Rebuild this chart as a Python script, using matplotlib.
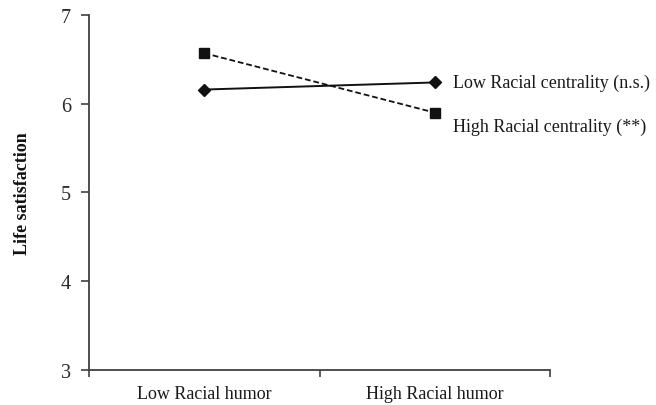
import matplotlib
matplotlib.use('Agg')
import matplotlib.pyplot as plt

# interaction plot: racial humor x racial centrality
humor_levels = ['Low Racial humor', 'High Racial humor']
low_centrality = [6.16, 6.24]
high_centrality = [6.57, 5.90]
series_labels = ['Low Racial centrality (n.s.)', 'High Racial centrality (**)']
y_ticks = [3, 4, 5, 6, 7]

plt.rcParams['font.family'] = ['Liberation Serif', 'DejaVu Serif']

fig = plt.figure(figsize=(6.56, 4.06), dpi=100)
ax = fig.add_axes([0.1357, 0.0862, 0.7027, 0.8744])

# points sit in the middle of each category slot
xs = [i + 0.5 for i in range(len(humor_levels))]

ax.plot(xs, low_centrality, color='#111111', lw=1.4, ls='-',
        marker='D', ms=6.5, mfc='#111111', mec='#111111')
ax.plot(xs, high_centrality, color='#111111', lw=1.3, ls=(0, (3.2, 1.6)),
        marker='s', ms=7.5, mfc='#111111', mec='#111111')

ax.annotate(series_labels[0], (xs[-1], low_centrality[-1]),
            xytext=(18, 0), textcoords='offset pixels',
            ha='left', va='center', fontsize=13, color='#1a1a1a')
ax.annotate(series_labels[1], (xs[-1], high_centrality[-1]),
            xytext=(18, -14), textcoords='offset pixels',
            ha='left', va='center', fontsize=13, color='#1a1a1a')

ax.set_xlim(0, len(humor_levels))
ax.set_ylim(y_ticks[0], y_ticks[-1])
ax.set_yticks(y_ticks)
ax.set_yticklabels([str(t) for t in y_ticks], fontsize=14.5, color='#2a2a2a')

# slot boundaries get tick marks, category names go on minor ticks
ax.set_xticks(range(len(humor_levels) + 1))
ax.set_xticklabels([])
ax.set_xticks(xs, minor=True)
ax.set_xticklabels(humor_levels, minor=True, fontsize=13, color='#1a1a1a')
ax.tick_params(axis='x', which='minor', length=0, pad=11)
ax.tick_params(axis='x', which='major', length=5, width=1.2, color='#404040')
ax.tick_params(axis='y', length=6, width=1.2, color='#404040', pad=7)

for side in ['top', 'right']:
    ax.spines[side].set_visible(False)
for side in ['left', 'bottom']:
    ax.spines[side].set_color('#404040')
    ax.spines[side].set_linewidth(1.3)

ax.set_ylabel('Life satisfaction', fontsize=13, fontweight='bold', color='#111111')
ax.yaxis.set_label_coords(-0.125, 0.5)

fig.savefig('out.png', dpi=100)
